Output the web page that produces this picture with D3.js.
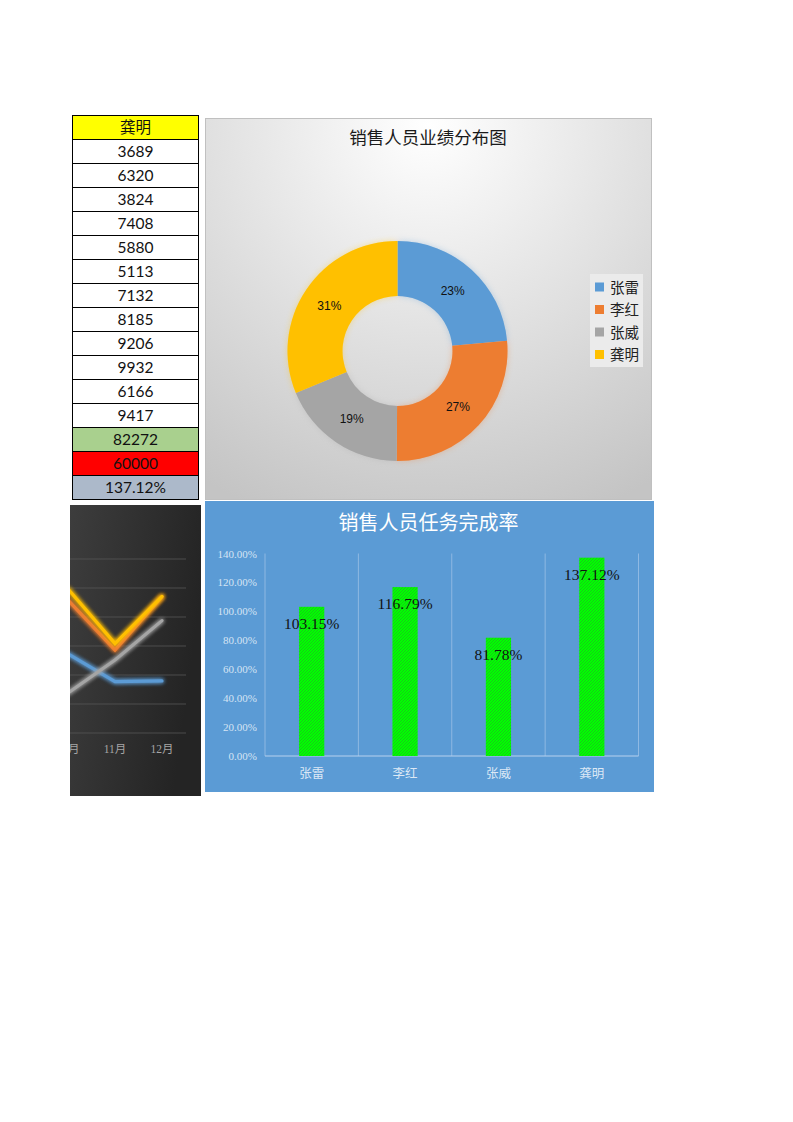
<!DOCTYPE html>
<html>
<head>
<meta charset="utf-8">
<script src="https://cdn.jsdelivr.net/npm/d3@7"></script>
<style>
	body { margin: 0; background: #fff; }
	svg { display: block; }
</style>
</head>
<body>
<svg id="page" width="793" height="1122"></svg>
<script>
"use strict";

// Sales people and their yearly totals (target 60000 each)
var names = ['张雷', '李红', '张威', '龚明'];
var totals = [61890, 70074, 49068, 82272];
var target = 60000;

// Monthly figures of 龚明 (table column)
var gongHeader = '龚明';
var gongMonthly = [3689, 6320, 3824, 7408, 5880, 5113, 7132, 8185, 9206, 9932, 6166, 9417];

// Visible part of the monthly line chart
var lineMonths = ['10月', '11月', '12月'];
var lineZhangLei = [5450, 3540, 3590];
var lineLiHong = [9170, 5720, 9400];
var lineZhangWei = [2760, 5030, 7750];
var lineGongMing = gongMonthly.slice(9);
var lineTicks = [0, 2000, 4000, 6000, 8000, 10000, 12000];

var barTicks = [0, 0.2, 0.4, 0.6, 0.8, 1.0, 1.2, 1.4];

var colors = ['#5B9BD5', '#ED7D31', '#A5A5A5', '#FFC000'];

var svg = d3.select('#page');
var defs = svg.append('defs');

// Whole percents that add up to 100 (largest remainder, like the spreadsheet does)
function roundedShares(vals) {
	var sum = d3.sum(vals);
	var raw = vals.map(function(v) { return v / sum * 100; });
	var out = raw.map(Math.floor);
	var left = 100 - d3.sum(out);
	d3.range(vals.length).sort(function(a, b) { return (raw[b] - out[b]) - (raw[a] - out[a]); })
		.slice(0, left).forEach(function(i) { out[i] += 1; });
	return out;
}

// ---------- Table ----------
function drawTable() {
	var rowH = 24, x0 = 72.5, y0 = 115.5, w = 126;
	var rows = [{t: gongHeader, fill: '#FFFF00', cjk: true}];
	gongMonthly.forEach(function(v) { rows.push({t: String(v), fill: '#fff'}); });
	var sum = d3.sum(gongMonthly);
	rows.push({t: String(sum), fill: '#A9D08E'});
	rows.push({t: String(target), fill: '#FF0000'});
	rows.push({t: d3.format('.2%')(sum / target), fill: '#ACB9CA'});

	var g = svg.append('g').attr('class', 'table');
	var r = g.selectAll('g').data(rows).join('g')
		.attr('transform', function(d, i) { return 'translate(' + x0 + ',' + (y0 + i*rowH) + ')'; });
	r.append('rect').attr('width', w).attr('height', rowH)
		.attr('fill', function(d) { return d.fill; }).attr('stroke', '#000').attr('stroke-width', 1);
	r.append('text').attr('x', w/2).attr('y', rowH/2 + 5.5).attr('text-anchor', 'middle')
		.style('font-family', function(d) { return d.cjk ? '"Noto Sans CJK SC"' : 'Lato, "Noto Sans"'; })
		.style('font-size', '15.5px').attr('fill', '#111')
		.text(function(d) { return d.t; });
}

// ---------- Donut chart ----------
function drawDonut() {
	var bx = 205.5, by = 118.5, bw = 446, bh = 381;
	var grad = defs.append('radialGradient').attr('id', 'donutBg')
		.attr('gradientUnits', 'userSpaceOnUse')
		.attr('cx', 428).attr('cy', 125).attr('r', 420);
	grad.append('stop').attr('offset', '0%').attr('stop-color', '#ffffff');
	grad.append('stop').attr('offset', '100%').attr('stop-color', '#c4c4c4');

	var g = svg.append('g').attr('class', 'donut');
	g.append('rect').attr('x', bx).attr('y', by).attr('width', bw).attr('height', bh)
		.attr('fill', 'url(#donutBg)').attr('stroke', '#c0c0c0');

	g.append('text').attr('x', 428).attr('y', 144).attr('text-anchor', 'middle')
		.style('font-family', '"Noto Sans CJK SC"').style('font-size', '17.5px').attr('fill', '#1a1a1a')
		.text('销售人员业绩分布图');

	var glow = defs.append('filter').attr('id', 'donutGlow').attr('x', '-20%').attr('y', '-20%')
		.attr('width', '140%').attr('height', '140%');
	glow.append('feGaussianBlur').attr('in', 'SourceGraphic').attr('stdDeviation', 3).attr('result', 'b');
	var m = glow.append('feMerge');
	m.append('feMergeNode').attr('in', 'b');
	m.append('feMergeNode').attr('in', 'SourceGraphic');

	var cx = 397.5, cy = 351, rOut = 110, rIn = 55;
	var pie = d3.pie().sort(null)(totals);
	var arc = d3.arc().innerRadius(rIn).outerRadius(rOut);
	var lblArc = d3.arc().innerRadius(82).outerRadius(82);
	var pct = roundedShares(totals);

	var c = g.append('g').attr('transform', 'translate(' + cx + ',' + cy + ')');
	c.append('g').attr('filter', 'url(#donutGlow)').attr('opacity', 0.35)
		.selectAll('path').data(pie).join('path').attr('d', arc)
		.attr('fill', function(d, i) { return colors[i]; });
	c.selectAll('path.slice').data(pie).join('path').attr('class', 'slice').attr('d', arc)
		.attr('fill', function(d, i) { return colors[i]; });
	c.selectAll('text').data(pie).join('text')
		.attr('transform', function(d) { return 'translate(' + lblArc.centroid(d) + ')'; })
		.attr('text-anchor', 'middle').attr('dy', '0.35em')
		.style('font-family', '"Liberation Sans", Arial').style('font-size', '12px').attr('fill', '#111')
		.text(function(d, i) { return pct[i] + '%'; });

	// legend
	var lg = g.append('g');
	lg.append('rect').attr('x', 590).attr('y', 274).attr('width', 53).attr('height', 93).attr('fill', '#ebebeb');
	var it = lg.selectAll('g').data(names).join('g')
		.attr('transform', function(d, i) { return 'translate(595,' + (287 + i*22.5) + ')'; });
	it.append('rect').attr('x', 0).attr('y', -4.5).attr('width', 9).attr('height', 9)
		.attr('fill', function(d, i) { return colors[i]; });
	it.append('text').attr('x', 15).attr('y', 5.5)
		.style('font-family', '"Noto Sans CJK SC"').style('font-size', '14.5px').attr('fill', '#222')
		.text(function(d) { return d; });
}

// ---------- Line chart (left, cut by page edge) ----------
function drawLines() {
	var bx = 70, by = 505, bw = 131, bh = 291;
	defs.append('clipPath').attr('id', 'lineClip').append('rect')
		.attr('x', bx).attr('y', by).attr('width', bw).attr('height', bh);
	var grad = defs.append('linearGradient').attr('id', 'lineBg')
		.attr('x1', '0%').attr('y1', '0%').attr('x2', '100%').attr('y2', '30%');
	grad.append('stop').attr('offset', '0%').attr('stop-color', '#3d3d3d');
	grad.append('stop').attr('offset', '100%').attr('stop-color', '#242424');

	var g = svg.append('g').attr('clip-path', 'url(#lineClip)');
	g.append('rect').attr('x', bx).attr('y', by).attr('width', bw).attr('height', bh).attr('fill', 'url(#lineBg)');

	var x = d3.scalePoint().domain(lineMonths).range([68, 162]);
	var y = d3.scaleLinear().domain([0, 12000]).range([733, 559]);

	g.append('g').selectAll('line').data(lineTicks).join('line')
		.attr('x1', 40).attr('x2', 186)
		.attr('y1', function(d) { return y(d); }).attr('y2', function(d) { return y(d); })
		.attr('stroke', '#555').attr('stroke-width', 0.8);

	g.append('g').selectAll('text').data(lineMonths).join('text')
		.attr('x', function(d) { return x(d); }).attr('y', 753).attr('text-anchor', 'middle')
		.style('font-family', '"Liberation Serif", "Noto Sans CJK SC"').style('font-size', '11.5px')
		.attr('fill', '#a6a6a6').text(function(d) { return d; });

	var glow = defs.append('filter').attr('id', 'lineGlow').attr('x', '-30%').attr('y', '-30%')
		.attr('width', '160%').attr('height', '160%');
	glow.append('feGaussianBlur').attr('in', 'SourceGraphic').attr('stdDeviation', 2.2).attr('result', 'b');
	var m = glow.append('feMerge');
	m.append('feMergeNode').attr('in', 'b');
	m.append('feMergeNode').attr('in', 'b');
	m.append('feMergeNode').attr('in', 'SourceGraphic');

	var series = [lineZhangLei, lineZhangWei, lineLiHong, lineGongMing];
	var sColors = [colors[0], colors[2], colors[1], colors[3]];
	var line = d3.line().x(function(d, i) { return x(lineMonths[i]); }).y(function(d) { return y(d); });
	g.append('g').selectAll('path').data(series).join('path')
		.attr('d', line).attr('fill', 'none')
		.attr('stroke', function(d, i) { return sColors[i]; })
		.attr('stroke-width', 3.2).attr('stroke-linejoin', 'miter').attr('stroke-linecap', 'round')
		.attr('filter', 'url(#lineGlow)');
}

// ---------- Bar chart ----------
function drawBars() {
	var bx = 205, by = 501, bw = 449, bh = 291;
	var g = svg.append('g').attr('class', 'bars');
	g.append('rect').attr('x', bx).attr('y', by).attr('width', bw).attr('height', bh).attr('fill', '#5B9BD5');

	g.append('text').attr('x', 428.5).attr('y', 530).attr('text-anchor', 'middle')
		.style('font-family', '"Noto Sans CJK SC"').style('font-size', '20px').attr('fill', '#fff')
		.text('销售人员任务完成率');

	var pat = defs.append('pattern').attr('id', 'hatch').attr('patternUnits', 'userSpaceOnUse')
		.attr('width', 3).attr('height', 3);
	pat.append('rect').attr('width', 3).attr('height', 3).attr('fill', '#00ff00');
	pat.append('path').attr('d', 'M-1,1 l2,-2 M0,3 l3,-3 M2,4 l2,-2')
		.attr('stroke', '#22b022').attr('stroke-width', 0.7);

	var x = d3.scaleBand().domain(names).range([265, 638.5]).padding(0);
	var y = d3.scaleLinear().domain([0, 1.4]).range([756, 553.5]);
	var rates = totals.map(function(v) { return v / target; });
	var barW = x.bandwidth() * 0.27;

	// vertical gridlines at category edges
	var edges = names.map(function(n) { return x(n); }).concat([x.range()[1]]);
	g.append('g').selectAll('line').data(edges).join('line')
		.attr('x1', function(d) { return d; }).attr('x2', function(d) { return d; })
		.attr('y1', y(1.4)).attr('y2', y(0))
		.attr('stroke', '#9dc0e6').attr('stroke-width', 0.8);
	g.append('line').attr('x1', x.range()[0]).attr('x2', x.range()[1])
		.attr('y1', y(0)).attr('y2', y(0)).attr('stroke', '#b8d1ee').attr('stroke-width', 1);

	var ya = g.append('g').attr('transform', 'translate(265,0)')
		.call(d3.axisLeft(y).tickValues(barTicks).tickSize(0).tickPadding(8).tickFormat(d3.format('.2%')));
	ya.select('.domain').remove();
	ya.selectAll('text').style('font-family', '"Liberation Serif", "DejaVu Serif"')
		.style('font-size', '11px').attr('fill', '#d6e4f4');

	g.append('g').selectAll('rect').data(rates).join('rect')
		.attr('x', function(d, i) { return x(names[i]) + (x.bandwidth() - barW)/2; })
		.attr('y', function(d) { return y(d); })
		.attr('width', barW).attr('height', function(d) { return y(0) - y(d); })
		.attr('fill', 'url(#hatch)');

	g.append('g').selectAll('text').data(rates).join('text')
		.attr('x', function(d, i) { return x(names[i]) + x.bandwidth()/2; })
		.attr('y', function(d) { return y(d) + 22; }).attr('text-anchor', 'middle')
		.style('font-family', '"Liberation Serif", "DejaVu Serif"').style('font-size', '15.5px')
		.attr('fill', '#111').text(function(d) { return d3.format('.2%')(d); });

	g.append('g').selectAll('text').data(names).join('text')
		.attr('x', function(d) { return x(d) + x.bandwidth()/2; }).attr('y', 777.5).attr('text-anchor', 'middle')
		.style('font-family', '"Noto Sans CJK SC"').style('font-size', '12.5px').attr('fill', '#dce8f5')
		.text(function(d) { return d; });
}

drawTable();
drawDonut();
drawLines();
drawBars();
</script>
</body>
</html>
